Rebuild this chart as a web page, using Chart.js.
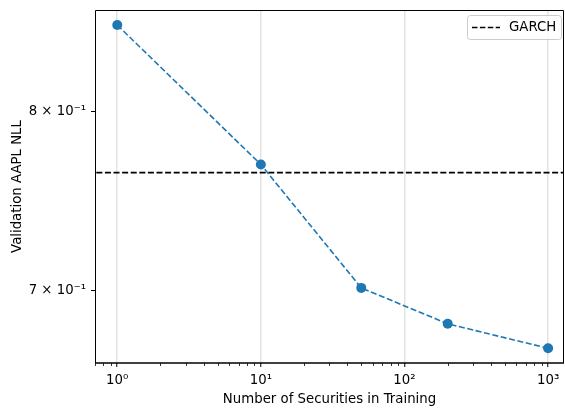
<!DOCTYPE html>
<html>
<head>
<meta charset="utf-8">
<script src="https://cdn.jsdelivr.net/npm/chart.js@4"></script>
<style>
  html, body { margin: 0; padding: 0; background: #fff; }
  #wrap { width: 565px; height: 408px; }
</style>
</head>
<body>
<div id="wrap"><canvas id="nllChart" width="565" height="408"></canvas></div>
<script>
// data
const securities = [1, 10, 50, 200, 1000];
const validationNll = [0.853, 0.769, 0.7016, 0.6831, 0.6708];
const garchNll = 0.7644;
const xTicks = [1, 10, 100, 1000];
const xTickLabels = ['10⁰', '10¹', '10²', '10³'];
const yTicks = [0.7, 0.8];
const yTickLabels = ['7 × 10⁻¹', '8 × 10⁻¹'];
const xRange = [0.715, 1290];
const yRange = [0.6635, 0.8626];

Chart.defaults.font.family = "'DejaVu Sans', sans-serif";
Chart.defaults.font.size = 13.3;
Chart.defaults.color = '#000';

// frame, minor x ticks and the legend box (matplotlib look)
const framePlugin = {
  id: 'frame',
  afterDraw(chart) {
    const { ctx, chartArea: a, scales } = chart;
    const l = Math.round(a.left) + 0.5, r = Math.round(a.right) - 0.5;
    const t = Math.round(a.top) + 0.5, b = Math.round(a.bottom);
    ctx.save();
    ctx.strokeStyle = '#000';
    ctx.lineWidth = 1;
    ctx.beginPath();
    ctx.moveTo(l, b); ctx.lineTo(l, t); ctx.lineTo(r, t); ctx.lineTo(r, b);
    ctx.stroke();
    ctx.beginPath();
    ctx.lineWidth = 1.5;
    ctx.moveTo(l - 0.5, b); ctx.lineTo(r + 0.5, b);
    ctx.stroke();

    // minor ticks on the log x axis
    const x = scales.x;
    ctx.beginPath();
    [0.1, 1, 10, 100, 1000].forEach(dec => {
      for (let k = 2; k <= 9; k++) {
        const v = k * dec;
        if (v < x.min || v > x.max) continue;
        const px = Math.round(x.getPixelForValue(v)) + 0.5;
        ctx.moveTo(px, b);
        ctx.lineTo(px, b + 3);
      }
    });
    ctx.lineWidth = 0.8;
    ctx.stroke();

    // legend
    const bx = a.right - 97, by = a.top + 5, bw = 94, bh = 24;
    ctx.beginPath();
    ctx.roundRect(bx + 0.5, by + 0.5, bw, bh, 3);
    ctx.fillStyle = 'rgba(255,255,255,0.8)';
    ctx.fill();
    ctx.strokeStyle = '#cccccc';
    ctx.lineWidth = 1;
    ctx.stroke();
    ctx.beginPath();
    ctx.setLineDash([5.5, 2.4]);
    ctx.strokeStyle = '#000';
    ctx.lineWidth = 1.5;
    ctx.moveTo(bx + 5, by + bh / 2 + 0.5);
    ctx.lineTo(bx + 33, by + bh / 2 + 0.5);
    ctx.stroke();
    ctx.setLineDash([]);
    ctx.fillStyle = '#000';
    ctx.font = "13.3px 'DejaVu Sans', sans-serif";
    ctx.textBaseline = 'middle';
    ctx.fillText('GARCH', bx + 42, by + bh / 2 + 1);
    ctx.restore();
  }
};

const ctx = document.getElementById('nllChart').getContext('2d');
new Chart(ctx, {
  type: 'line',
  data: {
    datasets: [
      {
        label: 'Model',
        data: securities.map((s, i) => ({ x: s, y: validationNll[i] })),
        borderColor: '#1f77b4',
        backgroundColor: '#1f77b4',
        borderWidth: 1.6,
        borderDash: [6, 2.6],
        pointRadius: 5,
        pointHoverRadius: 5,
        pointBorderWidth: 0,
        tension: 0
      },
      {
        label: 'GARCH',
        data: xRange.map(v => ({ x: v, y: garchNll })),
        borderColor: '#000',
        borderWidth: 1.6,
        borderDash: [6, 2.6],
        pointRadius: 0,
        tension: 0
      }
    ]
  },
  options: {
    responsive: false,
    animation: false,
    layout: { autoPadding: false, padding: { top: 10, right: 1, left: 0, bottom: 0 } },
    plugins: {
      legend: { display: false },
      tooltip: { enabled: false }
    },
    scales: {
      x: {
        type: 'logarithmic',
        min: xRange[0],
        max: xRange[1],
        afterBuildTicks: scale => { scale.ticks = xTicks.map(v => ({ value: v })); },
        afterFit: scale => {
          scale.height = 45;
          scale.paddingLeft = 0;
          scale.paddingRight = 0;
        },
        ticks: {
          autoSkip: false,
          maxRotation: 0,
          padding: 6,
          callback: v => xTickLabels[xTicks.indexOf(v)] ?? ''
        },
        grid: { color: '#e3e3e3', lineWidth: 1.5, tickColor: '#000', tickWidth: 1, tickLength: 4 },
        border: { display: false },
        title: {
          display: true,
          text: 'Number of Securities in Training',
          padding: { top: 2, bottom: 0 }
        }
      },
      y: {
        type: 'logarithmic',
        min: yRange[0],
        max: yRange[1],
        afterBuildTicks: scale => { scale.ticks = yTicks.map(v => ({ value: v })); },
        afterFit: scale => {
          scale.width = 95;
          scale.paddingTop = 0;
          scale.paddingBottom = 0;
        },
        ticks: {
          autoSkip: false,
          padding: 5,
          callback: v => yTickLabels[yTicks.indexOf(v)] ?? ''
        },
        grid: { drawOnChartArea: false, tickColor: '#000', tickLength: 4 },
        border: { display: false },
        title: {
          display: true,
          text: 'Validation AAPL NLL',
          padding: { top: 10, bottom: 4 }
        }
      }
    }
  },
  plugins: [framePlugin]
});
</script>
</body>
</html>
